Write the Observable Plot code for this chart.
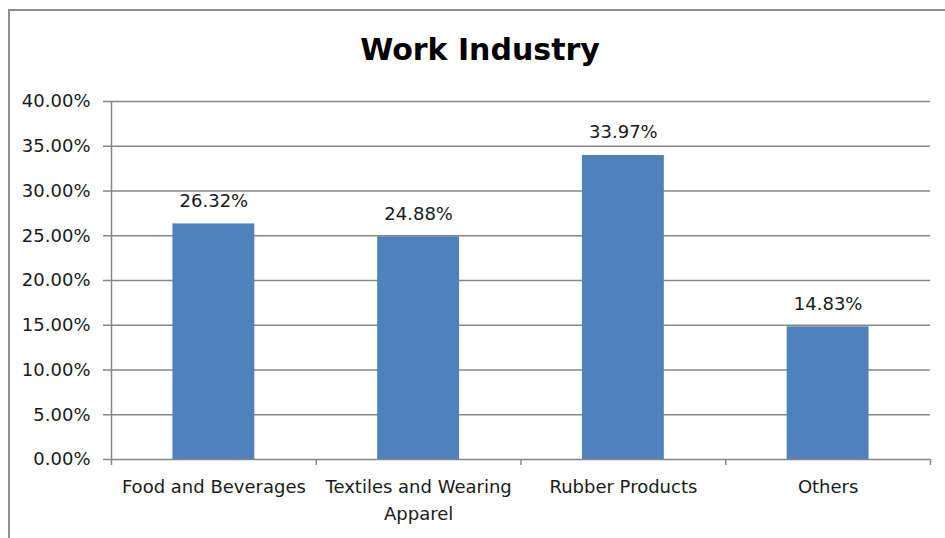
<!DOCTYPE html>
<html><head><meta charset="utf-8">
<script src="https://cdn.jsdelivr.net/npm/d3@7"></script>
<script src="https://cdn.jsdelivr.net/npm/@observablehq/plot@0.6"></script>
<style>
body{margin:0;background:#fff;}
#wrap{position:relative;width:945px;height:538px;overflow:hidden;font-family:"DejaVu Sans",sans-serif;}
#border{position:absolute;left:8px;top:9px;width:1000px;height:1000px;border:2px solid #8e8e8e;}
#title{position:relative;height:80px;box-sizing:border-box;padding-top:32px;padding-left:15px;line-height:36px;text-align:center;font-weight:bold;font-size:30px;color:#000;}
#chart{position:relative;}
</style>
</head><body>
<div id="wrap"><div id="border"></div><div id="title">Work Industry</div><div id="chart"></div></div>
<script>
const categories = ["Food and Beverages", "Textiles and Wearing Apparel", "Rubber Products", "Others"];
const tickLabels = ["Food and Beverages", "Textiles and Wearing\nApparel", "Rubber Products", "Others"];
const values = [0.2632, 0.2488, 0.3397, 0.1483];
const yTicks = [0, 0.05, 0.10, 0.15, 0.20, 0.25, 0.30, 0.35, 0.40];

const data = categories.map((c, i) => ({category: c, value: values[i], label: tickLabels[i]}));
const W = 945, H = 458, ML = 111, MR = 15;
const step = (W - ML - MR) / categories.length;
const pct = d3.format(".2%");
const grey = "#868686";

const chart = Plot.plot({
  width: W, height: H,
  marginLeft: ML, marginRight: MR, marginTop: 21, marginBottom: 79,
  style: {fontFamily: "DejaVu Sans", fontSize: "18px", color: "#1a1a1a", background: "transparent"},
  x: {domain: categories, paddingInner: 0.6, paddingOuter: 0.3, round: false, axis: null},
  y: {domain: [0, 0.4], axis: null},
  marks: [
    Plot.gridY(yTicks.slice(1), {stroke: grey, strokeOpacity: 1, strokeWidth: 1.5}),
    Plot.axisY(yTicks, {tickFormat: pct, tickSize: 8, tickPadding: 13, stroke: grey, strokeWidth: 1.5, fontSize: 18, fill: "#1a1a1a", label: null}),
    Plot.barY(data, {x: "category", y: "value", fill: "#4f81bd"}),
    Plot.ruleY([0], {stroke: grey, strokeWidth: 1.5}),
    Plot.ruleX([categories[0]], {x: d => d, y1: 0, y2: 0.4, dx: -step / 2, stroke: grey, strokeWidth: 1.5}),
    Plot.ruleX(categories, {x: d => d, y1: 0, y2: 0, insetBottom: -6, dx: -step / 2, stroke: grey, strokeWidth: 1.5}),
    Plot.ruleX([categories[categories.length - 1]], {x: d => d, y1: 0, y2: 0, insetBottom: -6, dx: step / 2, stroke: grey, strokeWidth: 1.5}),
    Plot.text(data, {x: "category", y: "value", text: d => pct(d.value), dy: -23, fill: "#1a1a1a", fontSize: 18}),
    Plot.text(data, {x: "category", y: 0, text: "label", dy: 14, lineAnchor: "top", lineHeight: 1.5, fill: "#1a1a1a", fontSize: 18})
  ]
});
document.getElementById("chart").appendChild(chart);
</script>
</body></html>
